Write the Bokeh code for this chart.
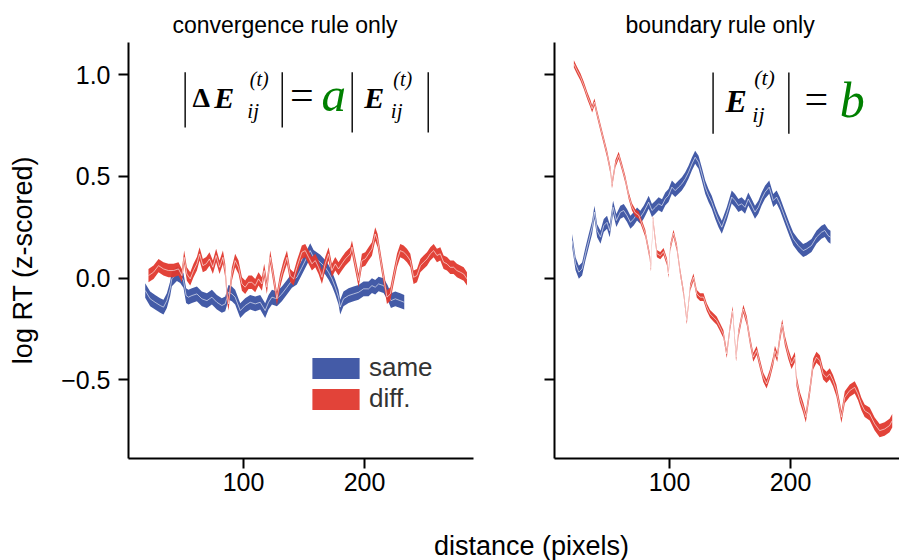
import math
from bokeh.plotting import figure
from bokeh.layouts import column, row
from bokeh.models import Range1d, FixedTicker, Legend, LegendItem, Label, ColumnDataSource
from bokeh.embed import file_html
from bokeh.resources import INLINE

FONT = "Liberation Sans"
BLUE = "#3a52a2"
RED = "#e0392e"
GREEN = "#008000"

titles = ["convergence rule only", "boundary rule only"]
x_label = "distance (pixels)"
y_label = "log RT (z-scored)"
x_ticks = [100, 200]
y_ticks = [-0.5, 0.0, 0.5, 1.0]
y_tick_labels = ["\u22120.5", "0.0", "0.5", "1.0"]
legend_labels = ["same", "diff."]

# ---- convergence rule only: same ----
conv_same_x = [18.8, 22.9, 27.0, 31.2, 33.9, 36.7, 39.4, 40.8, 45.0, 47.7, 50.4, 52.6, 54.5, 57.4,
               61.5, 65.6, 69.8, 73.9, 78.0, 82.1, 84.9, 87.6, 90.4, 93.1, 97.3, 101.4, 105.5,
               109.7, 113.8, 117.9, 120.7, 123.5, 127.6, 131.7, 135.9, 140.0, 144.1, 148.3, 152.4,
               155.1, 157.9, 163.4, 167.5, 170.2, 173.1, 175.8, 178.5, 179.9, 182.6, 186.8, 190.9,
               195.0, 199.2, 203.3, 206.1, 208.8, 211.6, 215.7, 219.0, 221.8, 225.4, 229.5, 232.8]
conv_same_y = [-0.061, -0.102, -0.119, -0.135, -0.143, -0.111, -0.053, -0.004, 0.021, 0.012, -0.012,
               -0.086, -0.094, -0.086, -0.078, -0.102, -0.111, -0.094, -0.119, -0.135, -0.127, -0.070,
               -0.078, -0.094, -0.160, -0.135, -0.119, -0.127, -0.119, -0.160, -0.119, -0.094, -0.102,
               -0.078, -0.045, -0.012, 0.004, 0.053, 0.102, 0.135, 0.102, 0.078, 0.053, 0.029, -0.004,
               -0.045, -0.094, -0.143, -0.102, -0.086, -0.078, -0.070, -0.053, -0.053, -0.037, -0.045,
               -0.029, -0.037, -0.070, -0.111, -0.102, -0.111, -0.119]
conv_same_se = 0.036

# ---- convergence rule only: diff. ----
conv_diff_x = [21.5, 25.7, 29.8, 33.9, 38.0, 42.2, 46.3, 49.1, 51.0, 53.2, 56.0, 58.7, 61.5, 63.7,
               66.4, 69.2, 71.9, 74.7, 77.4, 80.2, 83.0, 84.9, 86.3, 87.6, 90.4, 93.1, 95.9, 98.7,
               101.4, 104.2, 106.9, 109.7, 112.4, 115.2, 117.1, 119.3, 122.1, 124.8, 127.6, 130.3,
               133.1, 135.9, 138.6, 141.4, 144.1, 148.2, 151.0, 153.8, 156.5, 159.3, 162.0, 164.8,
               167.5, 170.3, 173.0, 175.8, 178.5, 181.3, 184.1, 188.2, 189.6, 192.3, 195.1, 197.8,
               200.6, 203.3, 206.1, 208.8, 210.8, 213.0, 215.7, 218.5, 221.3, 224.0, 226.8, 229.5,
               232.3, 235.0, 237.8, 240.5, 243.3, 246.1, 248.8, 251.6, 254.3, 257.1, 259.8, 262.6,
               265.3, 268.1, 270.8, 273.6, 276.3, 279.1, 281.9, 284.6]
conv_diff_y = [0.012, 0.029, 0.061, 0.045, 0.037, 0.037, 0.045, 0.012, 0.102, 0.020, -0.004, 0.037,
               0.070, 0.119, 0.061, 0.070, 0.094, 0.053, 0.111, 0.053, 0.102, 0.037, -0.078, -0.127,
               0.020, 0.086, 0.053, -0.029, -0.045, -0.021, -0.021, -0.037, -0.004, -0.029, 0.037,
               -0.045, 0.102, 0.004, -0.102, -0.012, 0.053, 0.102, 0.012, -0.004, 0.053, 0.127, 0.135,
               0.102, 0.070, 0.086, 0.053, 0.004, 0.070, 0.119, 0.037, 0.070, 0.045, 0.070, 0.094,
               0.119, 0.152, 0.070, -0.012, 0.086, 0.094, 0.119, 0.143, 0.217, 0.184, 0.102, 0.004,
               -0.094, -0.078, 0.004, 0.086, 0.135, 0.127, 0.111, 0.086, 0.004, 0.012, 0.061, 0.078,
               0.094, 0.119, 0.135, 0.111, 0.119, 0.078, 0.070, 0.053, 0.053, 0.037, 0.029, 0.020,
               -0.004]
conv_diff_se = 0.033

# ---- boundary rule only: same ----
bound_same_x = [19.6, 22.4, 25.1, 27.8, 30.6, 33.3, 36.1, 38.0, 40.2, 43.0, 45.7, 48.4, 50.6, 53.4,
                56.1, 59.4, 62.2, 64.9, 67.7, 70.4, 73.2, 75.9, 78.7, 81.4, 82.8, 85.5, 88.3, 91.0,
                93.8, 96.5, 99.2, 102.0, 104.7, 107.5, 110.2, 113.0, 115.7, 118.5, 121.2, 124.0,
                126.7, 129.5, 132.2, 134.9, 137.7, 140.4, 143.2, 147.3, 151.4, 154.1, 156.9, 159.6,
                162.4, 165.1, 167.9, 170.6, 173.4, 176.1, 178.9, 182.4, 185.7, 188.5, 191.2, 195.3,
                199.4, 202.2, 206.3, 210.4, 213.2, 217.3, 221.4, 225.5, 228.3, 231.0, 233.0]
bound_same_y = [0.184, 0.070, 0.029, 0.045, 0.119, 0.184, 0.250, 0.324, 0.233, 0.201, 0.258, 0.274,
                0.233, 0.348, 0.283, 0.324, 0.332, 0.307, 0.274, 0.291, 0.315, 0.299, 0.324, 0.356,
                0.373, 0.332, 0.348, 0.365, 0.356, 0.389, 0.406, 0.447, 0.430, 0.447, 0.463, 0.488,
                0.520, 0.561, 0.594, 0.569, 0.512, 0.447, 0.406, 0.373, 0.324, 0.283, 0.250, 0.316,
                0.398, 0.381, 0.357, 0.365, 0.348, 0.389, 0.357, 0.324, 0.348, 0.389, 0.422, 0.447,
                0.381, 0.398, 0.365, 0.299, 0.234, 0.193, 0.160, 0.135, 0.143, 0.160, 0.201, 0.225,
                0.234, 0.209, 0.201]
bound_same_se = 0.032

# ---- boundary rule only: diff. ----
bound_diff_x = [21.0, 23.7, 26.5, 29.2, 32.0, 34.7, 36.1, 38.0, 40.2, 42.9, 45.7, 48.4, 51.2, 52.5,
                55.3, 58.0, 60.8, 63.5, 66.3, 69.0, 71.8, 74.5, 77.3, 80.0, 83.6, 84.7, 86.3, 89.6,
                92.4, 95.1, 97.9, 99.2, 100.6, 103.3, 106.1, 108.8, 111.6, 114.3, 117.1, 119.8,
                122.6, 125.3, 128.1, 130.8, 133.5, 136.3, 139.0, 141.8, 144.5, 147.3, 150.0, 152.2,
                155.0, 156.9, 161.0, 163.8, 166.5, 169.2, 172.0, 174.7, 177.5, 180.2, 183.0, 185.7,
                187.1, 189.0, 191.2, 193.1, 195.3, 198.1, 200.8, 203.6, 204.9, 207.7, 210.4, 212.6,
                215.9, 218.7, 221.4, 224.2, 226.9, 229.7, 232.4, 235.1, 237.9, 240.6, 242.0, 244.8,
                248.9, 253.0, 255.7, 258.5, 261.2, 265.4, 269.5, 273.6, 277.7, 281.8, 284.0]
bound_diff_y = [1.053, 1.020, 0.988, 0.947, 0.898, 0.857, 0.832, 0.865, 0.807, 0.742, 0.676, 0.611,
                0.529, 0.460, 0.562, 0.603, 0.545, 0.485, 0.405, 0.350, 0.320, 0.310, 0.265, 0.220,
                0.110, 0.050, 0.290, 0.120, 0.110, 0.130, 0.080, 0.020, 0.150, 0.220, 0.150, 0.030,
                -0.070, -0.209, -0.045, 0.004, -0.078, -0.094, -0.094, -0.143, -0.176, -0.193, -0.209,
                -0.242, -0.275, -0.373, -0.242, -0.160, -0.389, -0.275, -0.152, -0.209, -0.307, -0.389,
                -0.356, -0.422, -0.488, -0.520, -0.471, -0.406, -0.357, -0.389, -0.291, -0.226, -0.307,
                -0.373, -0.422, -0.389, -0.504, -0.586, -0.635, -0.684, -0.553, -0.422, -0.389, -0.406,
                -0.471, -0.488, -0.471, -0.504, -0.553, -0.635, -0.684, -0.586, -0.553, -0.537, -0.570,
                -0.619, -0.652, -0.668, -0.717, -0.750, -0.742, -0.725, -0.701]
bound_diff_se = [0.018, 0.018, 0.018, 0.018, 0.018, 0.018, 0.018, 0.018, 0.018, 0.018, 0.018, 0.018,
                 0.018, 0.018, 0.018, 0.018, 0.018, 0.018, 0.018, 0.018, 0.018, 0.018, 0.018, 0.018,
                 0.018, 0.018, 0.018, 0.018, 0.018, 0.018, 0.018, 0.018, 0.018, 0.018, 0.018, 0.018,
                 0.018, 0.018, 0.018, 0.019, 0.019, 0.019, 0.019, 0.019, 0.019, 0.020, 0.020, 0.020,
                 0.020, 0.020, 0.020, 0.021, 0.021, 0.021, 0.021, 0.022, 0.022, 0.022, 0.022, 0.023,
                 0.023, 0.023, 0.023, 0.024, 0.024, 0.024, 0.024, 0.024, 0.025, 0.025, 0.025, 0.025,
                 0.026, 0.026, 0.026, 0.026, 0.027, 0.027, 0.027, 0.027, 0.028, 0.028, 0.028, 0.028,
                 0.029, 0.029, 0.029, 0.030, 0.030, 0.030, 0.031, 0.031, 0.031, 0.032, 0.032, 0.032,
                 0.033, 0.033, 0.033]


def band(p, x, m, se, color):
    if not isinstance(se, list):
        se = [se] * len(m)
    src = ColumnDataSource(dict(x=x, m=m,
                                lo=[a - b for a, b in zip(m, se)],
                                hi=[a + b for a, b in zip(m, se)]))
    r = p.varea(x="x", y1="lo", y2="hi", source=src, fill_color=color, fill_alpha=0.95)
    p.line(x="x", y="m", source=src, line_color="white", line_width=0.8, line_alpha=0.75)
    return r


def make_fig(width, min_left, min_right, title, offset):
    p = figure(width=width, height=520, x_range=Range1d(5, 290), y_range=Range1d(-0.887, 1.158),
               output_backend="svg", toolbar_location=None, min_border_left=min_left,
               min_border_right=min_right, min_border_top=42, min_border_bottom=62, title=title)
    p.title.align = "left"
    p.title.offset = offset
    p.title.text_font = FONT
    p.title.text_font_size = "23px"
    p.title.text_font_style = "normal"
    p.title.text_color = "black"
    p.xgrid.grid_line_color = None
    p.ygrid.grid_line_color = None
    p.outline_line_color = None
    p.xaxis.ticker = FixedTicker(ticks=x_ticks)
    p.yaxis.ticker = FixedTicker(ticks=y_ticks)
    for ax in (p.xaxis[0], p.yaxis[0]):
        ax.axis_line_width = 2
        ax.major_tick_line_width = 2
        ax.major_tick_in = 0
        ax.major_tick_out = 10
        ax.minor_tick_line_color = None
        ax.major_label_text_font = FONT
        ax.major_label_text_font_size = "25px"
        ax.major_label_text_color = "black"
    p.xaxis.major_label_standoff = 4
    p.yaxis.major_label_standoff = 8
    return p


# left strip holding the y axis label
p0 = figure(width=50, height=520, x_range=Range1d(0, 50), y_range=Range1d(0, 520),
            output_backend="svg", toolbar_location=None, min_border=0)
p0.axis.visible = False
p0.grid.visible = False
p0.outline_line_color = None
p0.add_layout(Label(x=22, y=248, text=y_label, angle=math.pi / 2, text_font=FONT,
                    text_font_size="27px", text_align="center", text_baseline="middle",
                    text_color="black"))

p1 = make_fig(428, 78, 5, titles[0], 44)
p2 = make_fig(421, 76, 0, titles[1], 71)
p1.yaxis.major_label_overrides = {t: s for t, s in zip(y_ticks, y_tick_labels)}
p2.yaxis.major_label_overrides = {t: "" for t in y_ticks}

rb1 = band(p1, conv_same_x, conv_same_y, conv_same_se, BLUE)
rr1 = band(p1, conv_diff_x, conv_diff_y, conv_diff_se, RED)
band(p2, bound_same_x, bound_same_y, bound_same_se, BLUE)
band(p2, bound_diff_x, bound_diff_y, bound_diff_se, RED)

legend = Legend(items=[LegendItem(label=legend_labels[0], renderers=[rb1]),
                       LegendItem(label=legend_labels[1], renderers=[rr1])],
                location=(178, 44), padding=0, margin=0, spacing=0,
                glyph_width=59, glyph_height=26, label_height=26, label_standoff=4,
                label_text_font=FONT, label_text_font_size="26px", label_text_color="#333333",
                border_line_color=None, background_fill_alpha=0)
p1.add_layout(legend)


def piece(p, x, y, text, size, style="normal", color="black", font="Liberation Serif"):
    p.add_layout(Label(x=x, y=y, text=text, text_font=font, text_font_size=size,
                       text_font_style=style, text_color=color, text_align="center",
                       text_baseline="alphabetic"))


# formula, left panel
piece(p1, 65.1, 0.889, "\u0394", "28px", "bold")
piece(p1, 84.0, 0.889, "E", "30px", "bold italic")
piece(p1, 113.0, 0.981, "(t)", "20px", "italic")
piece(p1, 108.0, 0.819, "ij", "21px", "italic")
piece(p1, 148.1, 0.901, "=", "42px", "normal")
piece(p1, 174.5, 0.900, "a", "49px", "italic", GREEN)
piece(p1, 208.0, 0.889, "E", "30px", "bold italic")
piece(p1, 231.5, 0.981, "(t)", "20px", "italic")
piece(p1, 226.5, 0.819, "ij", "21px", "italic")
p1.segment(x0=[51.8, 132.0, 189.8, 252.6], x1=[51.8, 132.0, 189.8, 252.6],
           y0=[0.740, 0.740, 0.715, 0.715], y1=[1.012, 1.012, 1.012, 1.012],
           line_color="black", line_width=1.4)

# formula, right panel
piece(p2, 155.0, 0.868, "E", "32px", "bold italic")
piece(p2, 178.5, 0.987, "(t)", "22px", "italic")
piece(p2, 173.5, 0.806, "ij", "22px", "italic")
piece(p2, 221.3, 0.881, "=", "42px", "normal")
piece(p2, 250.9, 0.875, "b", "50px", "italic", GREEN)
p2.segment(x0=[136.0, 198.6], x1=[136.0, 198.6], y0=[0.710, 0.710], y1=[1.010, 1.010],
           line_color="black", line_width=1.4)

# shared x axis label
p3 = figure(width=899, height=40, x_range=Range1d(0, 899), y_range=Range1d(0, 40),
            output_backend="svg", toolbar_location=None, min_border=0)
p3.axis.visible = False
p3.grid.visible = False
p3.outline_line_color = None
p3.add_layout(Label(x=531, y=15, text=x_label, text_font=FONT, text_font_size="27px",
                    text_align="center", text_baseline="middle", text_color="black"))

layout = column(row(p0, p1, p2), p3)
open("out.html", "w").write(file_html(layout, INLINE))
